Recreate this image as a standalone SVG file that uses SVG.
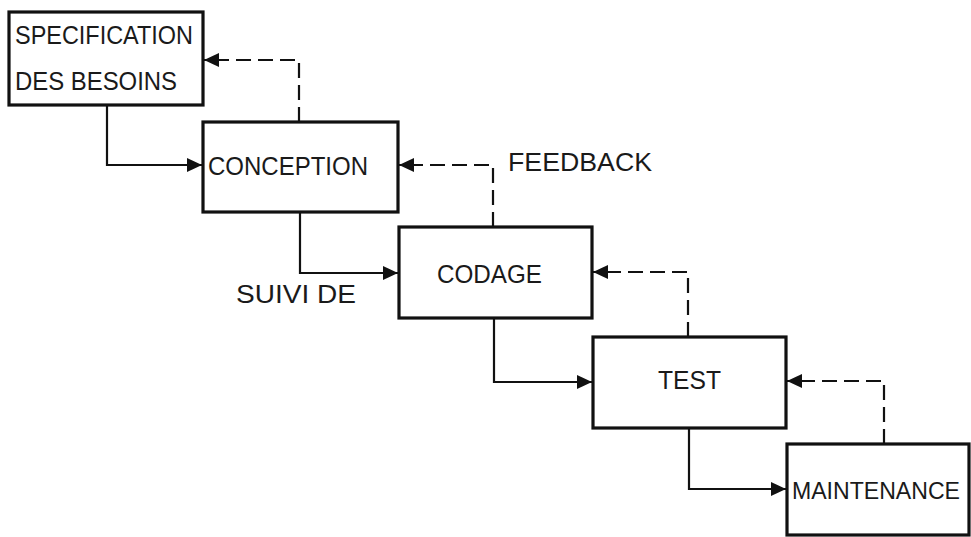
<svg xmlns="http://www.w3.org/2000/svg" width="971" height="537" viewBox="0 0 971 537">
<style>
.box{fill:#fff;stroke:#111;stroke-width:3.2}
.lbl{font-family:"Liberation Sans",Arial,sans-serif;font-size:25px;fill:#1a1a1a}
.flow{fill:none;stroke:#111;stroke-width:2.2}
.fb{fill:none;stroke:#111;stroke-width:2.2;stroke-dasharray:15 7}
</style>
<defs>
<marker id="ah" markerUnits="userSpaceOnUse" markerWidth="16" markerHeight="16" viewBox="0 0 16 16" refX="15" refY="8" orient="auto">
<path d="M0,1 L15,8 L0,15 Z" fill="#111"/>
</marker>
</defs>
<rect width="971" height="537" fill="#fff"/>
<g id="connectors">
<path class="flow" d="M107,105 V165 H202" marker-end="url(#ah)"/>
<path class="flow" d="M300,212 V273 H398" marker-end="url(#ah)"/>
<path class="flow" d="M494,318 V382 H592" marker-end="url(#ah)"/>
<path class="flow" d="M689,428 V489 H786" marker-end="url(#ah)"/>
<path class="fb" d="M299,122 V60 H204" marker-end="url(#ah)"/>
<path class="fb" d="M493,227 V165 H399" marker-end="url(#ah)"/>
<path class="fb" d="M688,337 V272 H593" marker-end="url(#ah)"/>
<path class="fb" d="M884,444 V381 H787" marker-end="url(#ah)"/>
</g>
<g id="specification">
<rect class="box" x="9" y="12" width="194" height="93"/>
<text class="lbl" x="15" y="44" textLength="178" lengthAdjust="spacingAndGlyphs">SPECIFICATION</text>
<text class="lbl" x="15" y="90" textLength="162" lengthAdjust="spacingAndGlyphs">DES BESOINS</text>
</g>
<g id="conception">
<rect class="box" x="203" y="122" width="195" height="90"/>
<text class="lbl" x="208" y="175" textLength="160" lengthAdjust="spacingAndGlyphs">CONCEPTION</text>
</g>
<g id="codage">
<rect class="box" x="399" y="227" width="193" height="91"/>
<text class="lbl" x="437" y="283" textLength="105" lengthAdjust="spacingAndGlyphs">CODAGE</text>
</g>
<g id="test">
<rect class="box" x="593" y="337" width="193" height="91"/>
<text class="lbl" x="658" y="389" textLength="63" lengthAdjust="spacingAndGlyphs">TEST</text>
</g>
<g id="maintenance">
<rect class="box" x="787" y="444" width="182" height="91"/>
<text class="lbl" x="792" y="499" font-size="23" style="font-size:23px" textLength="168" lengthAdjust="spacingAndGlyphs">MAINTENANCE</text>
</g>
<g id="labels">
<text class="lbl" x="508" y="171" textLength="144" lengthAdjust="spacingAndGlyphs">FEEDBACK</text>
<text class="lbl" x="236" y="303" textLength="120" lengthAdjust="spacingAndGlyphs">SUIVI DE</text>
</g>
</svg>
